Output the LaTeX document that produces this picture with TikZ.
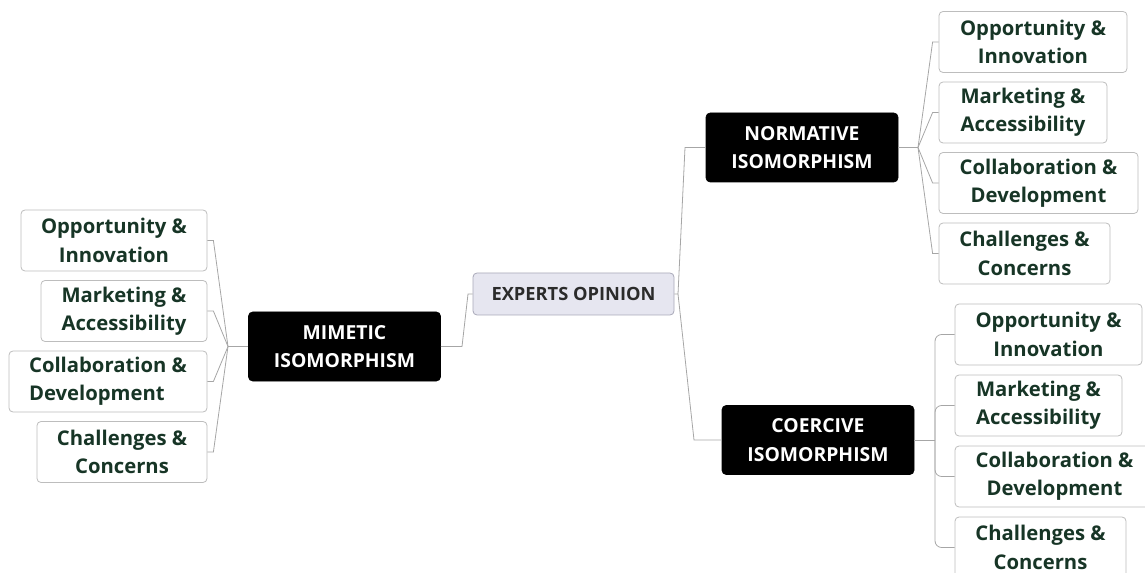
\documentclass[tikz,border=0pt]{standalone}
\usepackage{fontspec}
\setmainfont{Open Sans}
\usetikzlibrary{calc}
\definecolor{leaftext}{HTML}{173526}
\definecolor{leafborder}{HTML}{BDBDBD}
\definecolor{conn}{HTML}{A6A6A6}
\definecolor{rootfill}{HTML}{E6E6F0}
\definecolor{rootborder}{HTML}{A8A8B8}
\definecolor{roottext}{HTML}{2B2B2B}
\begin{document}
\begin{tikzpicture}[x=0.75pt,y=-0.75pt,
  leafbox/.style={draw=leafborder,line width=0.6pt,rounded corners=3pt,fill=white,
    text=leaftext,align=center,inner sep=0pt,minimum height=45.75pt,
    font=\fontsize{15.2}{21.3}\selectfont\bfseries},
  mainbox/.style={draw=black,fill=black,rounded corners=3pt,text=white,align=center,
    inner sep=0pt,minimum width=144pt,minimum height=51.75pt,
    font=\fontsize{14.5}{21.5}\selectfont\bfseries},
  rootbox/.style={draw=rootborder,line width=0.6pt,fill=rootfill,rounded corners=3pt,
    text=roottext,inner sep=0pt,minimum width=150.75pt,minimum height=31.5pt,
    font=\fontsize{13.7}{16}\selectfont\bfseries},
  link/.style={draw=conn,line width=0.6pt}]
\useasboundingbox (0,0) rectangle (1145,573);

% root and main branches
\node[rootbox] (root) at (573.5,294) {EXPERTS OPINION};
\node[mainbox] (mim) at (344.5,346.5) {MIMETIC\\ISOMORPHISM};
\node[mainbox] (nor) at (802,147.5) {NORMATIVE\\ISOMORPHISM};
\node[mainbox] (coe) at (818,440) {COERCIVE\\ISOMORPHISM};

% left leaves
\node[leafbox,minimum width=139.5pt] (l1) at (114,240.5) {Opportunity \&\\Innovation};
\node[leafbox,minimum width=124.5pt] (l2) at (124,311) {Marketing \&\\Accessibility};
\node[leafbox,minimum width=148.5pt,align=left] (l3) at (108,381.5) {Collaboration \&\\Development\hspace{8pt}};
\node[leafbox,minimum width=127.5pt] (l4) at (122,452) {Challenges \&\\Concerns};

% normative leaves
\node[leafbox,minimum width=141pt] (r1) at (1033,42) {Opportunity \&\\Innovation};
\node[leafbox,minimum width=126pt,align=left] (r2) at (1023,112.5) {Marketing \&\\Accessibility};
\node[leafbox,minimum width=149.25pt] (r3) at (1038.5,183) {Collaboration \&\\Development};
\node[leafbox,minimum width=128.25pt] (r4) at (1024.5,253.5) {Challenges \&\\Concerns};

% coercive leaves
\node[leafbox,minimum width=140.25pt] (b1) at (1048.5,334.5) {Opportunity \&\\Innovation};
\node[leafbox,minimum width=125.25pt,align=left] (b2) at (1038.5,405.5) {Marketing \&\\Accessibility};
\node[leafbox,minimum width=149.25pt] (b3) at (1054.5,476.5) {Collaboration \&\\Development};
\node[leafbox,minimum width=128.25pt] (b4) at (1040.5,547.5) {Challenges \&\\Concerns};

% junction coordinates
\coordinate (rl) at (468,294);
\coordinate (rr) at (678,294);
\coordinate (jm) at (228,346.5);
\coordinate (jn) at (918,147.5);
\coordinate (jc) at (935,440);

% root connectors
\draw[link] (root.west) -- (rl) -- (462,346.5) -- (mim.east);
\draw[link] (root.east) -- (rr) -- (685,147.5) -- (nor.west);
\draw[link] (rr) -- (694,440) -- (coe.west);

% mimetic connectors
\draw[link] (mim.west) -- (jm);
\foreach \n in {l1,l2,l3,l4}{
  \draw[link] (jm) -- ($(\n.east)+(6,0)$) -- (\n.east);
}
% normative connectors
\draw[link] (nor.east) -- (jn);
\foreach \n in {r1,r2,r3,r4}{
  \draw[link] (jn) -- ($(\n.west)+(-6,0)$) -- (\n.west);
}
% coercive connectors
\draw[link] (coe.east) -- (jc);
\foreach \n in {b1,b2,b3,b4}{
  \draw[link,rounded corners=5pt] (jc) |- (\n.west);
}
\end{tikzpicture}
\end{document}
